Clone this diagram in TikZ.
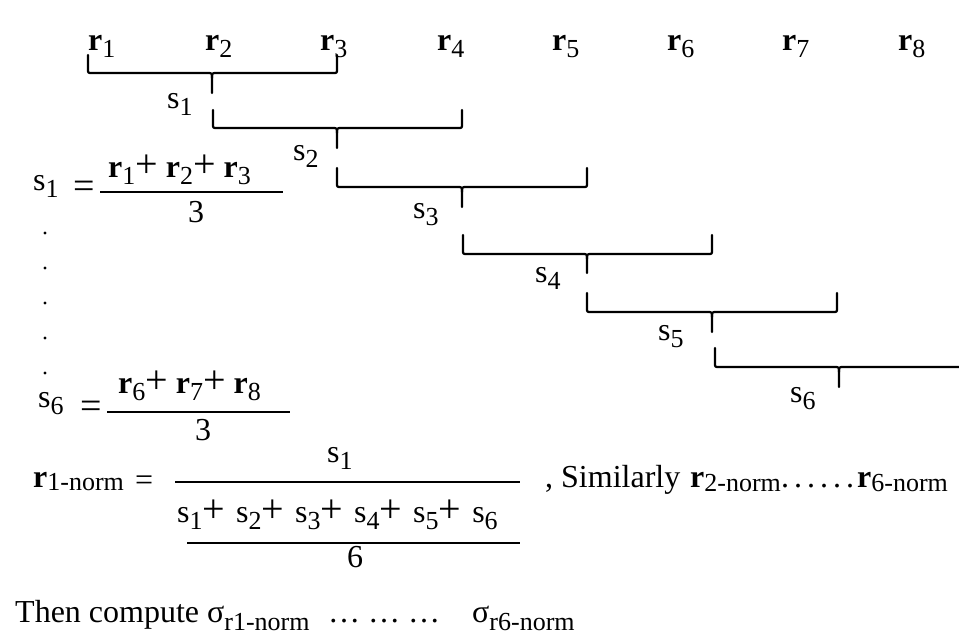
\documentclass[tikz,border=0pt]{standalone}
\usepackage{fontspec}
\setmainfont{Liberation Serif}
\newcommand\sbx[2][7pt]{\raisebox{-#1}{\fontsize{26}{28}\selectfont #2}}
\newcommand\rb{\textbf{r}}
\newcommand\pl{{\fontsize{40}{40}\selectfont +}}
\newcommand\eqs{{\fontsize{38}{38}\selectfont =}}
% xl xm xr ytop yh ytip
\newcommand\mybrace[6]{%
  \draw[brc] (#1,#4) -- (#1,#5-4) .. controls (#1,#5) .. (#1+4,#5) -- (#2-5,#5) .. controls (#2,#5) .. (#2,#5+5) -- (#2,#6);
  \draw[brc] (#2,#5+5) .. controls (#2,#5) .. (#2+5,#5) -- (#3-4,#5) .. controls (#3,#5) .. (#3,#5-4) -- (#3,#4);}
\begin{document}
\begin{tikzpicture}[x=1pt,y=-1pt,
  every node/.style={inner sep=0pt, anchor=base west, font=\fontsize{32}{38}\selectfont},
  brc/.style={line width=2.2pt, line cap=round},
  fbar/.style={line width=2.6pt}]
\useasboundingbox (0,0) rectangle (959,638);
\fill[white] (0,0) rectangle (959,638);
% top row of r
\node (r1) at (88,50) {\rb\sbx{1}};
\node (r2) at (205,50) {\rb\sbx{2}};
\node (r3) at (320,50) {\rb\sbx{3}};
\node (r4) at (437,50) {\rb\sbx{4}};
\node (r5) at (552,50) {\rb\sbx{5}};
\node (r6) at (667,50) {\rb\sbx{6}};
\node (r7) at (782,50) {\rb\sbx{7}};
\node (r8) at (898,50) {\rb\sbx{8}};
% braces
\mybrace{88}{212}{337}{55}{73}{93}
\mybrace{213}{337}{462}{110}{128}{148}
\mybrace{337}{462}{587}{168}{187}{207}
\mybrace{463}{587}{712}{235}{254}{273}
\mybrace{587}{712}{837}{293}{312}{332}
\mybrace{715}{839}{966}{348}{367}{387}
% s labels
\node (ls1) at (167,108) {s\sbx{1}};
\node (ls2) at (293,160) {s\sbx{2}};
\node (ls3) at (413,218) {s\sbx{3}};
\node (ls4) at (535,282) {s\sbx{4}};
\node (ls5) at (658,340) {s\sbx{5}};
\node (ls6) at (790,402) {s\sbx{6}};
% s1 equation
\node (e1s) at (33,190) {s\sbx{1}};
\node (e1eq) at (73,198) {\eqs};
\draw[fbar] (100,192) -- (283,192);
\node (e1num) at (108,177) {\rb\sbx{1}\pl\ \rb\sbx{2}\pl\ \rb\sbx{3}};
\node (e1den) at (188,222) {3};
% vertical dots
\foreach \yy in {233,268,303,338,373} \fill (45,\yy) circle (1.7);
% s6 equation
\node (e6s) at (38,407) {s\sbx{6}};
\node (e6eq) at (80,418) {\eqs};
\draw[fbar] (107,412) -- (290,412);
\node (e6num) at (118,393) {\rb\sbx{6}\pl\ \rb\sbx{7}\pl\ \rb\sbx{8}};
\node (e6den) at (195,440) {3};
% r1-norm
\node (rn) at (33,487) {\rb\sbx[3pt]{1-norm}};
\node (rneq) at (135,490) {=};
\draw[fbar] (175,482) -- (520,482);
\node (rnnum) at (327,462) {s\sbx{1}};
\node (rnden) at (177,522) {s\sbx{1}\pl\hspace{11pt}s\sbx{2}\pl\hspace{11pt}s\sbx{3}\pl\hspace{11pt}s\sbx{4}\pl\hspace{11pt}s\sbx{5}\pl\hspace{11pt}s\sbx{6}};
\draw[fbar] (187,543) -- (520,543);
\node (rnsix) at (347,567) {6};
\node (sim) at (545,487) {, Similarly};
\node (r2n) at (690,487) {\rb\sbx[4pt]{2-norm}};
\node (simdots) at (781,487) {.\hspace{5pt}.\hspace{5pt}.\hspace{5pt}.\hspace{5pt}.\hspace{5pt}.};
\node (r6n) at (857,487) {\rb\sbx[4pt]{6-norm}};
\node (then) at (15,622) {Then compute σ\sbx[8pt]{r1-norm}};
\node (thendots) at (328,622) {\dots\hspace{8pt}\dots\hspace{8pt}\dots};
\node (sig6) at (472,622) {σ\sbx[8pt]{r6-norm}};
\end{tikzpicture}
\end{document}
